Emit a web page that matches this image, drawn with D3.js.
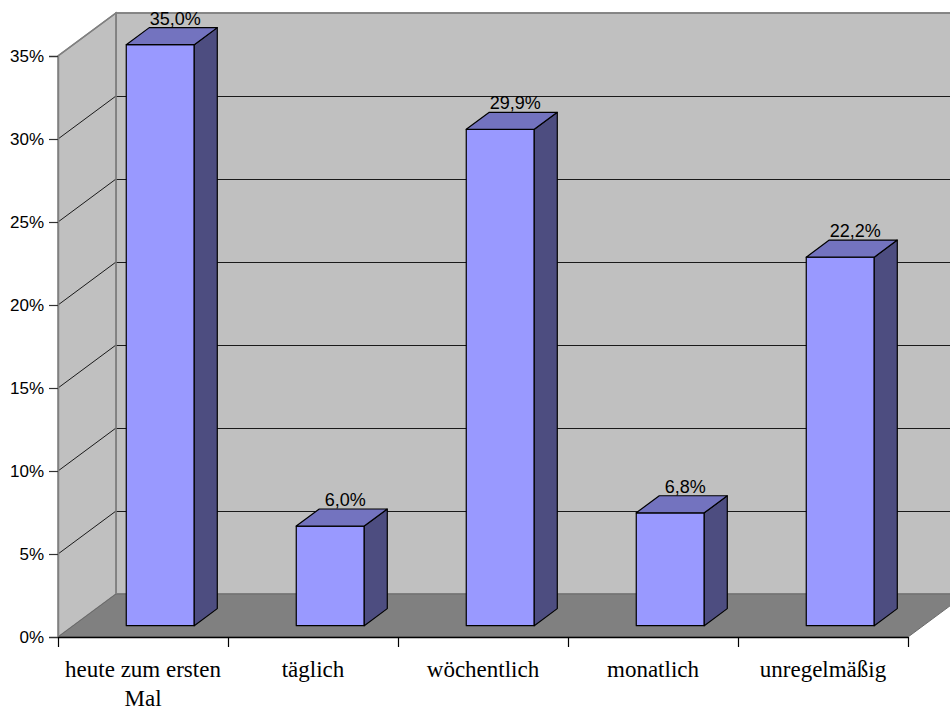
<!DOCTYPE html>
<html>
<head>
<meta charset="utf-8">
<script src="https://cdn.jsdelivr.net/npm/d3@7"></script>
<style>
  html, body { margin: 0; padding: 0; background: #fff; }
  svg { display: block; }
</style>
</head>
<body>
<svg id="chart" width="950" height="711"></svg>
<script>
// Chart data
const categories = ["heute zum ersten Mal", "täglich", "wöchentlich", "monatlich", "unregelmäßig"];
const values = [35.0, 6.0, 29.9, 6.8, 22.2];
const yTicks = [0, 5, 10, 15, 20, 25, 30, 35];

const W = 950, H = 711;
const svg = d3.select("#chart");

// Front plane scales
const x = d3.scaleBand().domain(categories).range([58, 908]);
const y = d3.scaleLinear().domain([0, 35]).range([637, 56]);

// 3D depth offset (front plane -> back wall)
const DX = 58, DY = -43;
const fFront = 0.263, fBack = 0.66;   // bar depth position as fraction of full depth
const barW = 68, barOff = 53;

const de = d3.formatLocale({decimal: ",", thousands: ".", grouping: [3], currency: ["", "€"]});
const fmtVal = v => de.format(".1f")(v) + "%";
const fmtTick = v => v + "%";

const line = d3.line();
const xEnd = x.range()[1];

// Back wall
svg.append("path")
  .attr("d", line([[58 + DX, y(0) + DY], [W + 20, y(0) + DY], [W + 20, y(35) + DY], [58 + DX, y(35) + DY]]) + "Z")
  .attr("fill", "#c0c0c0").attr("stroke", "#808080").attr("stroke-width", 1.5);

// Left wall
svg.append("path")
  .attr("d", line([[58, y(0)], [58 + DX, y(0) + DY], [58 + DX, y(35) + DY], [58, y(35)]]) + "Z")
  .attr("fill", "#c0c0c0").attr("stroke", "#808080").attr("stroke-width", 1.5);

// Floor
svg.append("path")
  .attr("d", line([[58, y(0)], [xEnd, y(0)], [xEnd + DX, y(0) + DY], [58 + DX, y(0) + DY]]) + "Z")
  .attr("fill", "#808080").attr("stroke", "#6a6a6a").attr("stroke-width", 1);

// Gridlines: back wall horizontals and left wall diagonals
const grid = svg.append("g").attr("fill", "none").attr("stroke", "#1a1a1a").attr("stroke-width", 1);
yTicks.filter(t => t > 0 && t < 35).forEach(t => {
  const yy = Math.round(y(t) + DY) + 0.5;
  grid.append("path").attr("d", line([[58 + DX, yy], [W + 20, yy]]));
  grid.append("path").attr("d", line([[58, y(t)], [58 + DX, y(t) + DY]]));
});

// Re-stroke wall edges on top of gridlines
svg.append("path")
  .attr("d", line([[58 + DX, y(0) + DY], [58 + DX, y(35) + DY], [W + 20, y(35) + DY]]))
  .attr("fill", "none").attr("stroke", "#808080").attr("stroke-width", 1.5);
svg.append("path")
  .attr("d", line([[58, y(35)], [58 + DX, y(35) + DY]]))
  .attr("fill", "none").attr("stroke", "#808080").attr("stroke-width", 1.5);

// Bars
const bars = svg.append("g").attr("stroke", "#000").attr("stroke-width", 1.2).attr("stroke-linejoin", "round");
categories.forEach((c, i) => {
  const v = values[i];
  const x0 = x(c) + barOff + DX * fFront;
  const x1 = x0 + barW;
  const yb = y(0) + DY * fFront;
  const yt = y(v) + DY * fFront;
  const ddx = DX * (fBack - fFront), ddy = DY * (fBack - fFront);
  // front face
  bars.append("path").attr("fill", "#9999ff")
    .attr("d", line([[x0, yb], [x1, yb], [x1, yt], [x0, yt]]) + "Z");
  // side face
  bars.append("path").attr("fill", "#4d4d80")
    .attr("d", line([[x1, yb], [x1 + ddx, yb + ddy], [x1 + ddx, yt + ddy], [x1, yt]]) + "Z");
  // top face
  bars.append("path").attr("fill", "#7373bf")
    .attr("d", line([[x0, yt], [x1, yt], [x1 + ddx, yt + ddy], [x0 + ddx, yt + ddy]]) + "Z");
  // value label
  svg.append("text")
    .attr("x", (x0 + x1) / 2 + 15)
    .attr("y", yt + ddy - 3)
    .attr("text-anchor", "middle")
    .attr("font-family", "Liberation Sans, Arial, sans-serif")
    .attr("font-size", 18)
    .attr("fill", "#000")
    .text(fmtVal(v));
});

// Y axis (front left edge)
const yAxis = d3.axisLeft(y).tickValues(yTicks).tickFormat(fmtTick).tickSize(9).tickPadding(5);
const gy = svg.append("g").attr("transform", "translate(58,0)").call(yAxis);
gy.select(".domain").attr("stroke", "#808080").attr("stroke-width", 1.5);
gy.selectAll(".tick line").attr("stroke", "#333").attr("stroke-width", 1.2);
gy.selectAll(".tick text")
  .attr("font-family", "Liberation Sans, Arial, sans-serif")
  .attr("font-size", 17).attr("fill", "#000");

// X axis: base line, boundary ticks and category labels
const boundaries = categories.map(c => x(c)).concat([xEnd]);
svg.append("path").attr("d", line([[58, y(0) + 0.5], [xEnd, y(0) + 0.5]]))
  .attr("stroke", "#000").attr("stroke-width", 1.5).attr("fill", "none");
boundaries.forEach(b => {
  svg.append("path").attr("d", line([[Math.round(b) + 0.5, y(0)], [Math.round(b) + 0.5, y(0) + 10]]))
    .attr("stroke", "#000").attr("stroke-width", 1.2);
});
const labelLines = {"heute zum ersten Mal": ["heute zum ersten", "Mal"]};
categories.forEach(c => {
  const lines = labelLines[c] || [c];
  const t = svg.append("text")
    .attr("x", x(c) + x.bandwidth() / 2)
    .attr("y", 677)
    .attr("text-anchor", "middle")
    .attr("font-family", "Liberation Serif, Times New Roman, serif")
    .attr("font-size", 23)
    .attr("fill", "#000");
  lines.forEach((l, k) => {
    t.append("tspan").attr("x", x(c) + x.bandwidth() / 2).attr("dy", k === 0 ? 0 : 29).text(l);
  });
});
</script>
</body>
</html>
